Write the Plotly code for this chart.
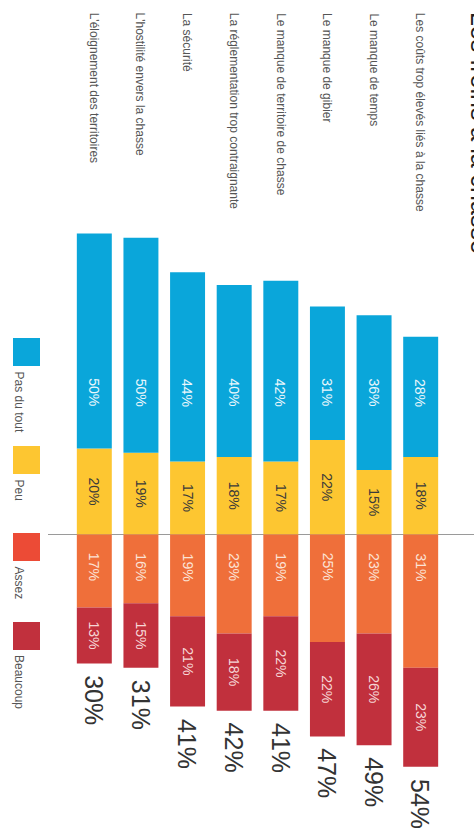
import plotly.graph_objects as go

categories = [
    "L'éloignement des territoires",
    "L'hostilité envers la chasse",
    "La sécurité",
    "La réglementation trop contraignante",
    "Le manque de territoire de chasse",
    "Le manque de gibier",
    "Le manque de temps",
    "Les coûts trop élevés liés à la chasse",
]
pas_du_tout = [50, 50, 44, 40, 42, 31, 36, 28]
peu = [20, 19, 17, 18, 17, 22, 15, 18]
assez = [17, 16, 19, 23, 19, 25, 23, 31]
beaucoup = [13, 15, 21, 18, 22, 22, 26, 23]
totals = [30, 31, 41, 42, 41, 47, 49, 54]
legend_names = ["Pas du tout", "Peu", "Assez", "Beaucoup"]
title = "Les freins à la chasse"

BLUE = "#0AA6DA"
YELLOW = "#FDC631"
ORANGE = "#EF6F3A"
RED = "#C1303D"
LEG_ORANGE = "#EC4B36"

W, H = 474, 828
ML, MR, MT, MB = 71, 30, 212, 14
PW = W - ML - MR
PH = H - MT - MB
FONT = "Liberation Sans, Arial, sans-serif"


def pxx(p):
    return (p - ML) / PW


def pxy(p):
    return (H - MB - p) / PH


fig = go.Figure()
fig.add_trace(go.Bar(
    x=categories, y=peu, marker=dict(color=YELLOW, line=dict(width=0)),
    text=[f"{v}%" for v in peu], textposition="inside", insidetextanchor="middle",
    textangle=90, textfont=dict(size=14, color="#3a3a3a", family=FONT), name=legend_names[1]))
fig.add_trace(go.Bar(
    x=categories, y=pas_du_tout, marker=dict(color=BLUE, line=dict(width=0)),
    name=legend_names[0]))
fig.add_trace(go.Bar(
    x=categories, y=[-v for v in assez], marker=dict(color=ORANGE, line=dict(width=0)),
    name=legend_names[2]))
fig.add_trace(go.Bar(
    x=categories, y=[-v for v in beaucoup], marker=dict(color=RED, line=dict(width=0)),
    text=[f"{v}%" for v in beaucoup], textposition="inside", insidetextanchor="middle",
    textangle=90, textfont=dict(size=14, color="#F6D6D6", family=FONT), name=legend_names[3]))

annotations = []
# blue labels at fixed level, orange labels near the zero line
for c, v in zip(categories, pas_du_tout):
    annotations.append(dict(x=c, y=33, xref="x", yref="y", text=f"{v}%", showarrow=False,
                            textangle=90, font=dict(size=14, color="#EAF7FC", family=FONT)))
for c, v in zip(categories, assez):
    annotations.append(dict(x=c, y=-7.6, xref="x", yref="y", text=f"{v}%", showarrow=False,
                            textangle=90, font=dict(size=14, color="#FCE3D6", family=FONT)))
# totals
for c, a, b, t in zip(categories, assez, beaucoup, totals):
    annotations.append(dict(x=c, y=-(a + b), xref="x", yref="y", text=f"{t}%", showarrow=False,
                            textangle=90, yanchor="top", yshift=-10,
                            font=dict(size=25, color="#333333", family=FONT)))
# category labels
for c in categories:
    annotations.append(dict(x=c, y=pxy(11), xref="x", yref="paper", text=c, showarrow=False,
                            textangle=90, yanchor="top", xanchor="center",
                            font=dict(size=12, color="#555555", family=FONT)))
# title (partly cut by the right edge, as in the reference)
annotations.append(dict(x=pxx(464), y=pxy(10), xref="paper", yref="paper", text=title,
                        showarrow=False, textangle=90, xanchor="left", yanchor="top",
                        font=dict(size=25, color="#222222", family=FONT)))

# legend
shapes = []
leg_colors = [BLUE, YELLOW, LEG_ORANGE, RED]
leg_top = [338, 446, 533, 622]
for name, col, top in zip(legend_names, leg_colors, leg_top):
    shapes.append(dict(type="rect", xref="paper", yref="paper",
                       x0=pxx(13), x1=pxx(40), y0=pxy(top), y1=pxy(top + 28),
                       fillcolor=col, line=dict(width=0)))
    annotations.append(dict(x=pxx(10), y=pxy(top + 31), xref="paper", yref="paper", text=name,
                            showarrow=False, textangle=90, xanchor="left", yanchor="top",
                            font=dict(size=12, color="#555555", family=FONT)))

YMIN, YMAX = -65, 75
zero_paper = (0 - YMIN) / (YMAX - YMIN)
shapes.append(dict(type="line", xref="paper", yref="paper", x0=pxx(48), x1=pxx(474),
                   y0=zero_paper, y1=zero_paper, line=dict(color="#9a9a9a", width=1),
                   layer="below"))

fig.update_layout(
    width=W, height=H,
    margin=dict(l=ML, r=MR, t=MT, b=MB),
    barmode="relative", bargap=0.25,
    showlegend=False,
    plot_bgcolor="white", paper_bgcolor="white",
    xaxis=dict(range=[-0.5, 7.5], showticklabels=False, showgrid=False, zeroline=False,
               showline=False, ticks=""),
    yaxis=dict(range=[YMIN, YMAX], showticklabels=False, showgrid=False, zeroline=False,
               showline=False, ticks=""),
    annotations=annotations, shapes=shapes,
    font=dict(family=FONT),
)

fig.write_html("out.html", config={"displayModeBar": False},
               post_script="document.body.style.margin='0';document.body.style.overflow='hidden';")
